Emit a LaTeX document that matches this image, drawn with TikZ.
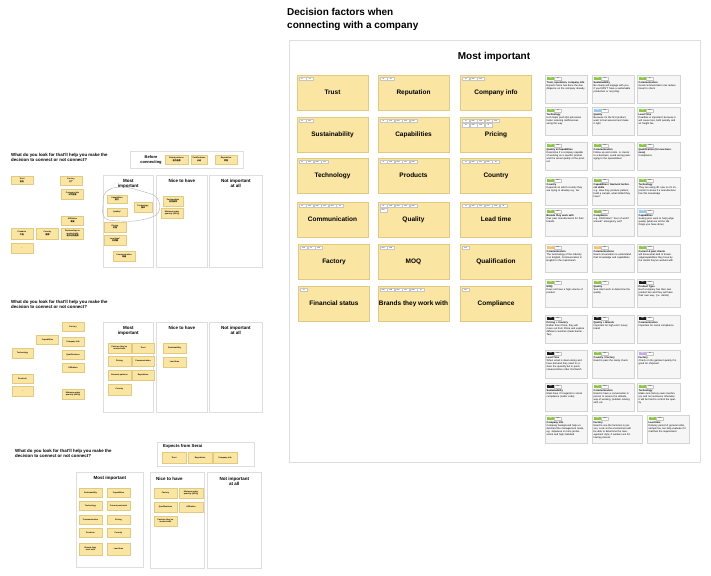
\documentclass[tikz,border=0pt]{standalone}
\usepackage{fontspec}
\setmainfont{Liberation Sans}
\newfontfamily\cjk{Noto Sans CJK SC}
\newcommand{\zh}[1]{{\cjk #1}}
\definecolor{notey}{RGB}{250,229,162}
\definecolor{noteedge}{RGB}{226,203,128}
\definecolor{framegray}{RGB}{222,222,222}
\definecolor{cardfill}{RGB}{246,246,246}
\definecolor{cardedge}{RGB}{212,212,212}
\definecolor{tgreen}{RGB}{140,200,70}
\definecolor{tblue}{RGB}{150,202,240}
\definecolor{torange}{RGB}{240,196,112}
\definecolor{tpurple}{RGB}{200,172,232}
\definecolor{tblack}{RGB}{28,28,28}
\tikzset{
  bignote/.style={rectangle, fill=notey, draw=noteedge, line width=0.5pt, minimum width=71pt, minimum height=35pt, inner sep=0pt, font=\fontsize{6.5}{7}\selectfont\bfseries},
  smallnote/.style={rectangle, fill=notey, draw=noteedge, line width=0.3pt, minimum width=22pt, minimum height=9pt, inner sep=0.4pt, align=center, font=\fontsize{2}{2.4}\selectfont\bfseries},
  tagbox/.style={rectangle, draw=gray!45, fill=white, line width=0.2pt, minimum width=7pt, minimum height=3.4pt, inner sep=0.2pt, font=\fontsize{1.4}{1.6}\selectfont},
  tagfill/.style={rectangle, minimum width=7.5pt, minimum height=3.6pt, inner sep=0.2pt, text=white, font=\fontsize{1.4}{1.6}\selectfont\bfseries},
  cardbox/.style={rectangle, fill=cardfill, draw=cardedge, line width=0.4pt, minimum height=28pt, inner sep=0pt},
  cardtext/.style={inner sep=0.5pt, align=left, text width=38pt, font=\fontsize{2.5}{3}\selectfont},
  colbox/.style={rectangle, draw=framegray, fill=white, line width=0.6pt, inner sep=0pt},
  colhead/.style={align=center, inner sep=0pt, font=\fontsize{4.5}{5.5}\selectfont\bfseries},
  question/.style={align=left, anchor=north west, inner sep=0pt, font=\fontsize{4.4}{5.6}\selectfont\bfseries}
}
\newcommand{\tagrow}[3]{%
  \foreach \t [count=\i from 0] in {#3}
    \node[tagbox, anchor=north west] (#1-t#2\i) at ([xshift={2+7.5*\i}, yshift={-2-4.5*#2}]#1.north west) {\t};
}
\newcommand{\card}[8]{%
  \node[cardbox, minimum width=#4pt, anchor=north west] (#1) at (#2,#3) {};
  \node[tagfill, fill=#5, anchor=north west] (#1-c) at ([xshift=1.5pt, yshift=-1.5pt]#1.north west) {CW};
  \node[tagbox, anchor=west] (#1-w) at (#1-c.east) {#6};
  \node[cardtext, anchor=north west] (#1-x) at ([xshift=1pt, yshift=-6pt]#1.north west) {\textbf{#7}\\#8};
}
\begin{document}
\begin{tikzpicture}[x=1pt,y=-1pt]
\useasboundingbox[fill=white] (0,0) rectangle (711,575);

% board 1
\node[question] (q1) at (11,153) {What do you look for that'll help you make the\\decision to connect or not connect?};
\node[smallnote, minimum height=8pt] (b1trust) at (22,180.5) {Trust\\\zh{信任}};
\node[smallnote] (b1fact) at (71,180.5) {Factory\\\zh{工厂}};
\node[smallnote, minimum height=10pt] (b1comp) at (72.5,194) {Company info\\\zh{公司信息}};
\node[smallnote] (b1aff) at (72.5,220.5) {Affiliation\\\zh{隶属}};
\node[smallnote, minimum height=11pt] (b1prod) at (22,233.5) {Products\\\zh{产品}};
\node[smallnote, minimum height=11pt] (b1ctry) at (47.5,233.5) {Country\\\zh{国家}};
\node[smallnote, minimum height=11pt] (b1part) at (72.5,233.5) {Partnerships to\\worked with\\\zh{合作过的品牌}};
\node[smallnote, minimum height=10pt] (b1dash) at (22,248) {-};

\node[colbox, minimum width=113pt, minimum height=17pt, anchor=north west] (before) at (130,151) {};
\node[colhead, font=\fontsize{4}{5}\selectfont\bfseries] (beforeh) at (151,159.5) {Before\\connecting};
\node[smallnote, minimum width=23pt] (bfpart) at (176.5,159.5) {Brand partners\\\zh{合作品牌}};
\node[smallnote, minimum width=16pt] (bfcert) at (199,159.5) {Certifications\\\zh{认证}};
\node[smallnote] (bfrep) at (226,159.5) {Reputation\\\zh{声誉}};

\node[colbox, minimum width=50pt, minimum height=92pt, anchor=north west] (b1most) at (103,175) {};
\node[colbox, minimum width=51pt, minimum height=92pt, anchor=north west] (b1nice) at (156,175) {};
\node[colbox, minimum width=53pt, minimum height=92pt, anchor=north west] (b1not) at (209,175) {};
\node[colhead, anchor=north] (b1mosth) at ([yshift=-4pt]b1most.north) {Most\\important};
\node[colhead, anchor=north] (b1niceh) at ([yshift=-4pt]b1nice.north) {Nice to have};
\node[colhead, anchor=north] (b1noth) at ([yshift=-4pt]b1not.north) {Not important\\at all};
\draw[gray!60, line width=0.4pt] plot[smooth cycle, tension=0.7] coordinates {(106,192) (121,187) (141,191) (157,198) (158,213) (141,220) (121,221) (105,218) (103,205)};
\node[smallnote, minimum width=20pt, minimum height=8pt] (b1cap) at (117,199) {Capabilities\\\zh{能力}};
\node[smallnote, minimum width=20pt, minimum height=8pt] (b1qual) at (117,212) {Quality*};
\node[smallnote, minimum width=18pt, minimum height=10pt] (b1tech) at (143,207) {Technology\\\zh{技术}};
\node[smallnote, minimum height=10pt] (b1price) at (115,227) {Pricing\\\zh{价格}};
\node[smallnote, minimum height=10pt] (b1lead) at (115,240) {Lead time*\\\zh{交货期}};
\node[smallnote, minimum height=10pt] (b1comm) at (124,256) {Communication\\\zh{沟通}};
\node[smallnote, minimum width=20pt, minimum height=10pt] (b1ship) at (173,201) {Partnerships\\\zh{合作伙伴}};
\node[smallnote, minimum height=10pt] (b1moq) at (172,213) {Minimum order\\quantity (MOQ)};

% board 2
\node[question] (q2) at (11,300) {What do you look for that'll help you make the\\decision to connect or not connect?};
\node[smallnote] (b2fact) at (73,327) {Factory};
\node[smallnote] (b2cap) at (47.5,340) {Capabilities};
\node[smallnote] (b2comp) at (73,341.5) {Company info};
\node[smallnote, minimum width=21pt, minimum height=10pt] (b2tech) at (22.5,353) {Technology};
\node[smallnote] (b2qual) at (73,354.5) {Qualifications};
\node[smallnote] (b2aff) at (73,367.5) {Affiliation};
\node[smallnote, minimum width=21pt] (b2prod) at (22.5,379) {Products};
\node[smallnote, minimum width=21pt, minimum height=10pt] (b2dash) at (22.5,391) {-};
\node[smallnote, minimum height=10pt] (b2moq) at (73,394) {Minimum order\\quantity (MOQ)};

\node[colbox, minimum width=50pt, minimum height=90pt, anchor=north west] (b2most) at (103,322) {};
\node[colbox, minimum width=51pt, minimum height=90pt, anchor=north west] (b2nice) at (156,322) {};
\node[colbox, minimum width=53pt, minimum height=90pt, anchor=north west] (b2not) at (209,322) {};
\node[colhead, anchor=north] (b2mosth) at ([yshift=-4pt]b2most.north) {Most\\important};
\node[colhead, anchor=north] (b2niceh) at ([yshift=-4pt]b2nice.north) {Nice to have};
\node[colhead, anchor=north] (b2noth) at ([yshift=-4pt]b2not.north) {Not important\\at all};
\node[smallnote, minimum width=23pt, minimum height=10pt] (b2part) at (119.5,348) {Partners they've\\worked with};
\node[smallnote, minimum height=10pt] (b2trust) at (143,348) {Trust};
\node[smallnote, minimum width=23pt, minimum height=10pt] (b2price) at (119.5,361) {Pricing};
\node[smallnote, minimum height=10pt] (b2comm) at (143,361) {Communication};
\node[smallnote, minimum width=23pt, minimum height=10pt] (b2garm) at (119.5,375) {Garment patterns};
\node[smallnote, minimum height=10pt] (b2rep) at (143,375) {Reputation};
\node[smallnote, minimum width=23pt, minimum height=11pt] (b2ctry) at (119.5,389.5) {Country};
\node[smallnote, minimum width=23pt, minimum height=10pt] (b2sust) at (174.5,348) {Sustainability};
\node[smallnote, minimum width=23pt, minimum height=10pt] (b2lead) at (174.5,362) {Lead time};

% board 3
\node[question] (q3) at (15,449) {What do you look for that'll help you make the\\decision to connect or not connect?};
\node[colbox, minimum width=97pt, minimum height=24pt, anchor=north west] (expect) at (157,442) {};
\node[colhead, anchor=north west, font=\fontsize{4.3}{5}\selectfont\bfseries] (expecth) at (163,444.5) {Expects from Serai};
\node[smallnote, minimum width=24pt, minimum height=11pt] (b3trust) at (174,457.5) {Trust};
\node[smallnote, minimum width=24pt, minimum height=11pt] (b3rep) at (200,457.5) {Reputation};
\node[smallnote, minimum width=24pt, minimum height=11pt] (b3comp) at (225,457.5) {Company info};

\node[colbox, minimum width=67pt, minimum height=95pt, anchor=north west] (b3most) at (76,472) {};
\node[colbox, minimum width=54pt, minimum height=96pt, anchor=north west] (b3nice) at (150,472) {};
\node[colbox, minimum width=54pt, minimum height=96pt, anchor=north west] (b3not) at (207,472) {};
\node[colhead, anchor=north] (b3mosth) at ([yshift=-4pt]b3most.north) {Most important};
\node[colhead, anchor=north west] (b3niceh) at ([xshift=6pt, yshift=-5pt]b3nice.north west) {Nice to have};
\node[colhead, anchor=north] (b3noth) at ([yshift=-5pt]b3not.north) {Not important\\at all};
\foreach \lbl [count=\i from 0] in {Sustainability, Technology, Communication, Products}
  \node[smallnote, minimum width=23pt] (b3l\i) at (90.5,{492.5+13.5*\i}) {\lbl};
\foreach \lbl [count=\i from 0] in {Capabilities, Current past work, Pricing, Country}
  \node[smallnote, minimum width=23pt] (b3r\i) at (118.5,{492.5+13.5*\i}) {\lbl};
\node[smallnote, minimum width=23pt, minimum height=12pt] (b3l4) at (90.5,549) {Brands they\\work with};
\node[smallnote, minimum width=23pt, minimum height=12pt] (b3r4) at (118.5,549) {Lead time};
\node[smallnote, minimum width=23pt, minimum height=10pt] (b3fact) at (165.5,493) {Factory};
\node[smallnote, minimum width=24pt, minimum height=10pt] (b3moq) at (191,493) {Minimum order\\quantity (MOQ)};
\node[smallnote, minimum width=23pt, minimum height=10pt] (b3qual) at (165.5,507) {Qualifications};
\node[smallnote, minimum width=24pt, minimum height=10pt] (b3aff) at (191,507) {Affiliation};
\node[smallnote, minimum width=23pt, minimum height=10pt] (b3part) at (165.5,521) {Partners they've\\worked with};

% main frame
\node[anchor=north west, align=left, inner sep=0pt, font=\fontsize{10}{12.5}\selectfont\bfseries] (title) at (287,8.5) {Decision factors when\\connecting with a company};
\node[colbox, minimum width=411pt, minimum height=422pt, anchor=north west] (frame) at (289,40) {};
\node[font=\fontsize{10}{12}\selectfont\bfseries] (mainh) at (494,57) {Most important};

\node[bignote] (trust) at (332.5,92.5) {Trust};
\node[bignote] (rep) at (413.5,92.5) {Reputation};
\node[bignote] (comp) at (496,92.5) {Company info};
\node[bignote] (sust) at (332.5,134.5) {Sustainability};
\node[bignote] (cap) at (413.5,134.5) {Capabilities};
\node[bignote] (price) at (496,134.5) {Pricing};
\node[bignote] (tech) at (332.5,175.5) {Technology};
\node[bignote] (prod) at (413.5,175.5) {Products};
\node[bignote] (ctry) at (496,175.5) {Country};
\node[bignote] (comm) at (332.5,219.5) {Communication};
\node[bignote] (qual) at (413.5,219.5) {Quality};
\node[bignote] (lead) at (496,219.5) {Lead time};
\node[bignote] (fact) at (334,261.5) {Factory};
\node[bignote] (moq) at (413.5,261.5) {MOQ};
\node[bignote] (qualif) at (496,261.5) {Qualification};
\node[bignote] (fin) at (334,303.5) {Financial status};
\node[bignote] (brand) at (413.5,303.5) {Brands they work with};
\node[bignote] (compl) at (496,303.5) {Compliance};

\tagrow{trust}{0}{S1,S4}
\tagrow{rep}{0}{S1,S4}
\tagrow{comp}{0}{S1,M06,M02}
\tagrow{sust}{0}{S1,M07}
\tagrow{cap}{0}{S1,M01,M02,M04,M06}
\tagrow{price}{0}{S1,M05,M06,M07,M02}
\tagrow{price}{1}{S4,M06,M03,S5}
\tagrow{tech}{0}{S1,M04,M06,M07}
\tagrow{prod}{0}{S1,M06,M04,M07,M05}
\tagrow{ctry}{0}{S1,M06,M07,M06,S4}
\tagrow{comm}{0}{S1,M02,M05,M07,M02,S4}
\tagrow{qual}{0}{S1,M06,M01,M05,M04}
\tagrow{qual}{1}{M07}
\tagrow{lead}{0}{S1,M06,M05,M07,M02,S4}
\tagrow{fact}{0}{M06,S4,M03}
\tagrow{moq}{0}{M03,M08}
\tagrow{qualif}{0}{M07}
\tagrow{fin}{0}{S4}
\tagrow{brand}{0}{M04,M08,M06,M07,M02,S4}
\tagrow{compl}{0}{M07}

\card{c1}{545}{75}{42}{tgreen}{S1}{Trust, reputation, company info}{Expects Serai has done the due diligence on the company already}
\card{c2}{592}{75}{42}{tgreen}{S1}{Sustainability}{Be clearly will engage with you if you DON'T have a sustainable production or recycling.}
\card{c3}{637}{75}{43}{tgreen}{S1}{Communication}{Good communication can reduce travel to check}
\card{c4}{545}{107}{42}{tgreen}{S1}{Technology}{tech helps push QA processes faster reducing inefficiencies along the way}
\card{c5}{592}{107}{42}{tblue}{M01}{Quality}{Because it's the first product, want to feel assured and make it right}
\card{c6}{637}{107}{43}{tgreen}{M04}{Lead Time}{Deadline is important; because it will cause loss, both penalty and air freight fee}
\card{c7}{545}{142}{42}{tgreen}{M02}{Quality \& Capabilities}{Determine if a company capable of working on a specific product and the actual quality of the product}
\card{c8}{592}{142}{42}{tgreen}{M02}{Communication}{Follow up and comm. is crucial to a business, avoid wrong packaging to the spreadsheet}
\card{c9}{637}{142}{43}{tgreen}{M03}{Qualification (for new business)}{Compliance}
\card{c10}{545}{177}{42}{tgreen}{M02}{Country}{Depends on which country they are trying to develop e.g. tax}
\card{c11}{592}{177}{42}{tgreen}{M01}{Capabilities / Garment technical skills}{e.g. How they produce pattern; build a sample, what skilled they have?}
\card{c12}{637}{177}{43}{tgreen}{M02}{Technology}{They are using 3D now so it's important to know if a manufacturer has this knowledge}
\card{c13}{545}{208}{42}{tgreen}{M04}{Brands they work with}{their peer manufacturers for their brands}
\card{c14}{592}{208}{42}{tgreen}{M04}{Compliance}{e.g. Child labor? hour of work? annual? emergency exit?}
\card{c15}{637}{208}{43}{tblue}{M07}{Capabilities}{Seeing prior work to help judge quality (what are all the silk things you have done)}
\card{c16}{545}{244}{42}{torange}{M07}{Communication}{The terminology of the industry is in English, Communication in English is the mainstream}
\card{c17}{592}{244}{42}{torange}{M07}{Communications}{Need conversation to understand their knowledge and capabilities}
\card{c18}{637}{244}{43}{tgreen}{M04}{Current \& past clients}{will know what kind of knowledge/capabilities they have by the clients they've worked with}
\card{c19}{545}{279}{42}{tgreen}{M03}{MOQ}{Does not have a high volume of product}
\card{c20}{592}{279}{42}{tgreen}{M08}{Quality}{See client work to determine the quality}
\card{c21}{637}{279}{43}{tblack}{M07}{Product Type}{Each company has their own product line and they will have their own way. (i.e. denim)}
\card{c22}{545}{315}{42}{tblack}{M07}{Pricing + Country}{Rather than China, they will move out from China and explore different countries (trade barrier - Tax)}
\card{c23}{592}{315}{42}{tblack}{M07}{Quality + Brands}{Important for high-end / luxury brand}
\card{c24}{637}{315}{43}{tblack}{M07}{Communication}{Important for social compliance}
\card{c25}{545}{350}{42}{tblack}{M07}{Lead Time}{When email is down-sizing and have demand they need to reduce the quantity but in quick release before order 2nd batch}
\card{c26}{592}{350}{42}{tgreen}{M04}{Country / Factory}{Need to pass the sanity check}
\card{c27}{637}{350}{43}{tpurple}{S4}{Factory}{Check on the garment quality if is good for shipment}
\card{c28}{545}{383}{42}{tblack}{M07}{Sustainability}{Must have if it regards to social compliance (Labor code)}
\card{c29}{592}{383}{42}{tgreen}{M03}{Communication}{Need to have a conversation in person to assess the attitude, way of working, problem solving skill, etc.}
\card{c30}{637}{383}{43}{tgreen}{M03}{Technology}{Make sure factory owns machinery and not outsource otherwise it will be hard to control the quality}
\card{c31}{545}{415}{42}{tgreen}{M03}{Company info}{Company background help understand the management mode, eg. Japanese is more professional and high standard}
\card{c32}{592}{415}{50}{tgreen}{M03}{Factory}{Need to see the factories in person, Look at the environment will be able to determine the management style, if workers are following process}
\card{c33}{647}{415}{42}{tgreen}{M03}{Lead time}{Delivery period of general order, sample fee can help evaluate if it matches the requirement}
\end{tikzpicture}
\end{document}
